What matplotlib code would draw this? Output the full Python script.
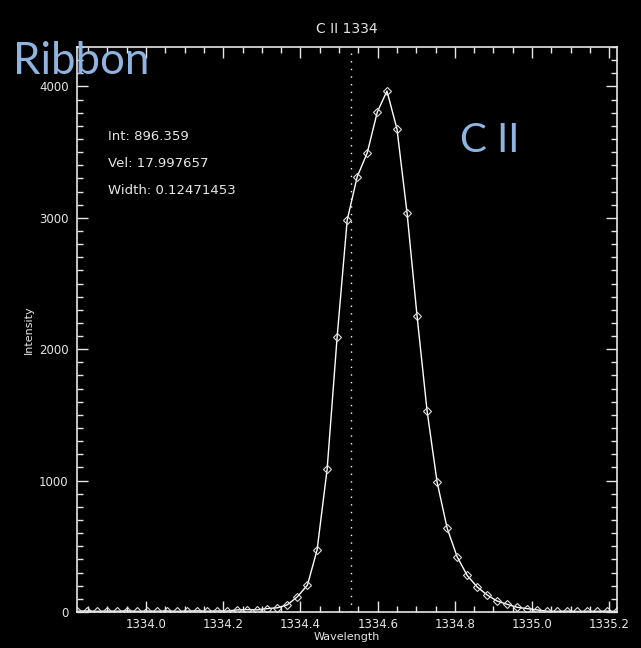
import matplotlib
matplotlib.use("Agg")
import matplotlib.pyplot as plt
from matplotlib.ticker import MultipleLocator

# ---- data ----
wavelength = [
    1333.821, 1333.847, 1333.873, 1333.899, 1333.925, 1333.951, 1333.977, 1334.003,
    1334.028, 1334.054, 1334.080, 1334.106, 1334.132, 1334.158, 1334.184, 1334.210,
    1334.236, 1334.262, 1334.288, 1334.314, 1334.340, 1334.366, 1334.392, 1334.418,
    1334.443, 1334.469, 1334.495, 1334.521, 1334.547, 1334.573, 1334.599, 1334.624,
    1334.650, 1334.676, 1334.702, 1334.728, 1334.754, 1334.780, 1334.806, 1334.832,
    1334.858, 1334.884, 1334.909, 1334.935, 1334.961, 1334.987, 1335.013, 1335.039,
    1335.065, 1335.091, 1335.117, 1335.143, 1335.169, 1335.194, 1335.220,
]
intensity = [
    6, 8, 5, 7, 6, 9, 5, 7,
    6, 8, 5, 7, 9, 6, 8, 7,
    16, 18, 16, 26, 32, 55, 116, 205,
    472, 1086, 2095, 2983, 3313, 3495, 3805, 3965,
    3676, 3039, 2253, 1530, 987, 637, 419, 278,
    190, 129, 84, 59, 36, 26, 16, 6,
    5, 7, 4, 6, 5, 7, 4,
]
line_center = 1334.531
title = "C II 1334"
xlabel = "Wavelength"
ylabel = "Intensity"
fit_text = ["Int: 896.359", "Vel: 17.997657", "Width: 0.12471453"]
label_left = "Ribbon"
label_right = "C II"

# ---- figure ----
fg = "#e6e6e6"
blue = "#8fb4e0"
fig = plt.figure(figsize=(6.41, 6.48), dpi=100, facecolor="black")
ax = fig.add_axes([77 / 641, 36 / 648, 540 / 641, 565 / 648], facecolor="black")

ax.plot(wavelength, intensity, color="white", lw=1.0, marker="D", ms=4.5,
        mfc="none", mec="#dddddd", mew=0.8, clip_on=True)
ax.axvline(line_center, color="white", lw=1.0, linestyle=(0, (1, 4.5)))

ax.set_xlim(wavelength[0], wavelength[-1])
ax.set_ylim(0, 4300)

ax.xaxis.set_major_locator(MultipleLocator(0.2))
ax.xaxis.set_minor_locator(MultipleLocator(0.05))
ax.yaxis.set_major_locator(MultipleLocator(1000))
ax.yaxis.set_minor_locator(MultipleLocator(100))
ax.xaxis.set_major_formatter(matplotlib.ticker.FormatStrFormatter("%.1f"))

ax.tick_params(which="both", direction="in", top=True, right=True,
               colors=fg, labelcolor=fg, labelsize=8.5)
ax.tick_params(which="major", length=8, width=1)
ax.tick_params(which="minor", length=4, width=1)
ax.tick_params(axis="x", pad=4)
ax.tick_params(axis="y", pad=6)
for s in ax.spines.values():
    s.set_color(fg)
    s.set_linewidth(1.2)

ax.set_title(title, color=fg, fontsize=10, pad=10)
ax.set_xlabel(xlabel, color=fg, fontsize=8, labelpad=1)
ax.set_ylabel(ylabel, color=fg, fontsize=8, labelpad=4)

for i, t in enumerate(fit_text):
    fig.text(108 / 641, 1 - (137 + i * 26.5) / 648, t, color=fg, fontsize=9.5,
             va="center", ha="left")

fig.text(13 / 641, 1 - 62 / 648, label_left, color=blue, fontsize=31.5,
         family="Lato", va="center", ha="left")
fig.text(460 / 641, 1 - 140 / 648, label_right, color=blue, fontsize=29,
         family="Lato", va="center", ha="left")

fig.savefig("out.png", dpi=100, facecolor="black")
